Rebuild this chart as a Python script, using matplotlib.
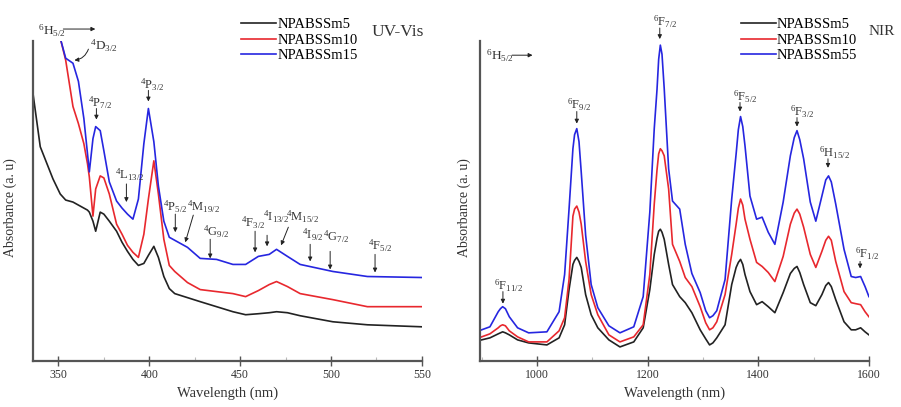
import numpy as np
import matplotlib
matplotlib.use('Agg')
import matplotlib.pyplot as plt
from matplotlib.ticker import MultipleLocator

plt.rcParams['font.family'] = ['Liberation Serif', 'DejaVu Serif']
plt.rcParams['mathtext.fontset'] = 'custom'
plt.rcParams['mathtext.rm'] = 'Liberation Serif'
plt.rcParams['mathtext.it'] = 'Liberation Serif:italic'
plt.rcParams['lines.solid_joinstyle'] = 'round'

# UV-Vis spectra (336-550 nm)
wl_uv = [336, 340, 347, 351, 354, 358, 361, 364, 366, 367, 369, 370.5, 373, 375,
         378, 382, 385, 388, 391, 394, 397, 399.5, 402.5, 405, 408, 411, 414,
         421, 428, 437, 446, 453, 460, 466, 470, 476, 483, 501, 520, 550]
uv_sm5 = [2.66, 2.13, 1.81, 1.66, 1.60, 1.58, 1.55, 1.52, 1.50, 1.48, 1.39, 1.29,
          1.48, 1.46, 1.39, 1.29, 1.18, 1.09, 1.01, 0.95, 0.97, 1.05, 1.14, 1.03,
          0.84, 0.72, 0.67, 0.63, 0.59, 0.54, 0.49, 0.46, 0.47, 0.48, 0.49, 0.48,
          0.45, 0.39, 0.36, 0.34]
uv_sm10 = [np.nan, np.nan, np.nan, 3.21, 2.99, 2.53, 2.36, 2.16, 1.96, 1.83, 1.44,
           1.71, 1.84, 1.82, 1.66, 1.36, 1.26, 1.15, 1.08, 1.03, 1.26, 1.61, 1.99,
           1.66, 1.21, 0.95, 0.89, 0.78, 0.71, 0.69, 0.67, 0.64, 0.70, 0.76, 0.79,
           0.74, 0.67, 0.61, 0.54, 0.54]
uv_sm15 = [np.nan, np.nan, np.nan, 3.21, 3.01, 2.96, 2.78, 2.41, 2.06, 1.88, 2.21,
           2.33, 2.29, 2.09, 1.78, 1.59, 1.52, 1.46, 1.41, 1.61, 2.16, 2.51, 2.18,
           1.74, 1.39, 1.23, 1.20, 1.13, 1.02, 1.01, 0.96, 0.96, 1.04, 1.06, 1.11,
           1.04, 0.96, 0.89, 0.84, 0.83]

# NIR spectra (900-1600 nm)
wl_nir = [900, 915, 930, 934, 938, 943, 950, 965, 985, 1018,
          1040, 1050, 1058, 1065, 1068, 1072, 1076, 1080, 1088, 1098,
          1110, 1130, 1150, 1175, 1192, 1204, 1212, 1217, 1220, 1223,
          1226, 1230, 1238, 1245, 1258, 1268, 1280, 1295, 1305, 1312,
          1318, 1325, 1340, 1352, 1360, 1364, 1368, 1372, 1376, 1385,
          1397, 1407, 1418, 1430, 1445, 1458, 1465, 1470, 1475, 1482,
          1494, 1504, 1515, 1522, 1527, 1532, 1540, 1555, 1568, 1576,
          1585, 1593, 1600]
nir_sm5 = [0.21, 0.23, 0.27, 0.28, 0.29, 0.28, 0.26, 0.21, 0.18, 0.16,
           0.23, 0.36, 0.71, 0.96, 1.00, 1.03, 0.99, 0.93, 0.66, 0.46,
           0.33, 0.21, 0.14, 0.19, 0.33, 0.71, 1.06, 1.22, 1.29, 1.31,
           1.28, 1.21, 0.96, 0.76, 0.64, 0.58, 0.48, 0.31, 0.22, 0.16,
           0.18, 0.23, 0.36, 0.76, 0.93, 0.98, 1.01, 0.96, 0.86, 0.69,
           0.56, 0.59, 0.54, 0.48, 0.68, 0.87, 0.92, 0.94, 0.88, 0.76,
           0.58, 0.55, 0.66, 0.75, 0.78, 0.74, 0.61, 0.39, 0.31, 0.31,
           0.33, 0.29, 0.26]
nir_sm10 = [0.24, 0.27, 0.33, 0.35, 0.36, 0.35, 0.30, 0.24, 0.19, 0.19,
            0.30, 0.43, 0.81, 1.44, 1.51, 1.54, 1.48, 1.36, 0.99, 0.66,
            0.46, 0.26, 0.19, 0.24, 0.36, 0.86, 1.56, 1.90, 2.06, 2.11,
            2.09, 2.04, 1.71, 1.16, 0.99, 0.83, 0.74, 0.54, 0.38, 0.31,
            0.33, 0.39, 0.66, 1.06, 1.36, 1.52, 1.61, 1.55, 1.41, 1.21,
            0.98, 0.94, 0.88, 0.79, 1.04, 1.36, 1.47, 1.51, 1.46, 1.33,
            1.06, 0.93, 1.09, 1.20, 1.24, 1.20, 0.99, 0.69, 0.58, 0.57,
            0.56, 0.49, 0.44]
nir_sm55 = [0.31, 0.34, 0.49, 0.52, 0.54, 0.52, 0.44, 0.33, 0.28, 0.29,
            0.49, 0.86, 1.51, 2.11, 2.25, 2.31, 2.18, 1.88, 1.25, 0.76,
            0.53, 0.35, 0.28, 0.34, 0.64, 1.48, 2.31, 2.70, 3.00, 3.14,
            3.05, 2.71, 1.91, 1.59, 1.51, 1.16, 0.87, 0.68, 0.50, 0.43,
            0.45, 0.50, 0.81, 1.61, 2.06, 2.30, 2.43, 2.33, 2.14, 1.64,
            1.41, 1.43, 1.28, 1.16, 1.58, 2.04, 2.22, 2.29, 2.20, 2.01,
            1.58, 1.39, 1.64, 1.80, 1.84, 1.78, 1.56, 1.11, 0.84, 0.83,
            0.84, 0.74, 0.64]

# level labels: (text, label x, label y, arrow start, arrow tip)
uv_levels = [
    (r'$^{4}\mathrm{P}_{7/2}$', 366.5, 2.53, (370.9, 2.51), (370.9, 2.40)),
    (r'$^{4}\mathrm{P}_{3/2}$', 395.0, 2.71, (399.5, 2.69), (399.5, 2.58)),
    (r'$^{4}\mathrm{L}_{13/2}$', 381.3, 1.81, (387.4, 1.76), (387.4, 1.58)),
    (r'$^{4}\mathrm{P}_{5/2}$', 407.7, 1.49, (414.3, 1.46), (414.3, 1.28)),
    (r'$^{4}\mathrm{M}_{19/2}$', 420.8, 1.49, (424.2, 1.45), (419.8, 1.18)),
    (r'$^{4}\mathrm{G}_{9/2}$', 429.7, 1.24, (433.5, 1.21), (433.5, 1.02)),
    (r'$^{4}\mathrm{F}_{3/2}$', 450.6, 1.33, (458.2, 1.29), (458.2, 1.08)),
    (r'$^{4}\mathrm{I}_{13/2}$', 462.4, 1.39, (464.8, 1.25), (464.8, 1.14)),
    (r'$^{4}\mathrm{M}_{15/2}$', 475.4, 1.39, (476.5, 1.33), (472.5, 1.15)),
    (r'$^{4}\mathrm{I}_{9/2}$', 484.0, 1.21, (488.5, 1.16), (488.5, 0.99)),
    (r'$^{4}\mathrm{G}_{7/2}$', 495.8, 1.19, (499.5, 1.09), (499.5, 0.91)),
    (r'$^{4}\mathrm{F}_{5/2}$', 520.3, 1.11, (524.2, 1.06), (524.2, 0.88)),
]
nir_levels = [
    (r'$^{6}\mathrm{F}_{11/2}$', 922, 0.71, (938.5, 0.69), (938.5, 0.57)),
    (r'$^{6}\mathrm{F}_{9/2}$', 1054, 2.51, (1072, 2.48), (1072, 2.36)),
    (r'$^{6}\mathrm{F}_{7/2}$', 1210, 3.33, (1222, 3.31), (1222, 3.20)),
    (r'$^{6}\mathrm{F}_{5/2}$', 1354, 2.59, (1367, 2.57), (1367, 2.48)),
    (r'$^{6}\mathrm{F}_{3/2}$', 1457, 2.44, (1470, 2.42), (1470, 2.33)),
    (r'$^{6}\mathrm{H}_{15/2}$', 1510, 2.03, (1526, 2.01), (1526, 1.92)),
    (r'$^{6}\mathrm{F}_{1/2}$', 1575, 1.03, (1584, 0.99), (1584, 0.92)),
]

colors = ['#222222', '#e8282e', '#2626e0']
axis_col = '#555555'

fig = plt.figure(figsize=(9.01, 4.07), dpi=100)
ax1 = fig.add_axes([0.0366, 0.113, 0.4317, 0.786])
ax2 = fig.add_axes([0.5327, 0.113, 0.4317, 0.786])


def style_axis(ax):
    for s in ['top', 'right']:
        ax.spines[s].set_visible(False)
    for s in ['left', 'bottom']:
        ax.spines[s].set_color(axis_col)
        ax.spines[s].set_linewidth(1.6)
    ax.set_yticks([])
    ax.tick_params(axis='x', direction='inout', length=7, width=1, colors=axis_col,
                   labelcolor='#333333', labelsize=8.5, pad=2)
    ax.tick_params(axis='x', which='minor', direction='in', length=3, width=0.8,
                   colors='#bbbbbb')
    ax.set_ylim(0, 3.18)
    ax.set_xlabel('Wavelength (nm)', fontsize=10.5, color='#333333', labelpad=4)
    ax.set_ylabel('Absorbance (a. u)', fontsize=10, color='#333333')


def label_levels(ax, levels):
    for txt, tx, ty, start, tip in levels:
        ax.text(tx, ty, txt, fontsize=9, color='#333333', va='baseline',
                clip_on=False)
        ax.annotate('', xy=tip, xytext=start, annotation_clip=False,
                    arrowprops=dict(arrowstyle='-|>', color='#222222', lw=0.7,
                                    mutation_scale=6, shrinkA=0, shrinkB=0))


# UV-Vis panel
style_axis(ax1)
ax1.plot(wl_uv, uv_sm5, color=colors[0], lw=1.2, label='NPABSSm5')
ax1.plot(wl_uv, uv_sm10, color=colors[1], lw=1.2, label='NPABSSm10')
ax1.plot(wl_uv, uv_sm15, color=colors[2], lw=1.2, label='NPABSSm15')
ax1.set_xlim(336, 550)
ax1.xaxis.set_major_locator(MultipleLocator(50))
ax1.xaxis.set_minor_locator(MultipleLocator(25))
ax1.yaxis.set_label_coords(-0.04, 0.48)
label_levels(ax1, uv_levels)
ax1.text(339, 3.24, r'$^{6}\mathrm{H}_{5/2}$', fontsize=9.5, color='#333333',
         va='baseline', clip_on=False)
ax1.annotate('', xy=(370.3, 3.30), xytext=(352.7, 3.30), annotation_clip=False,
             arrowprops=dict(arrowstyle='-|>', color='#222222', lw=0.7,
                             mutation_scale=6, shrinkA=0, shrinkB=0))
ax1.text(367.6, 3.09, r'$^{4}\mathrm{D}_{3/2}$', fontsize=9.5, color='#333333',
         va='baseline', clip_on=False)
ax1.annotate('', xy=(358.8, 2.99), xytext=(366.5, 3.10), annotation_clip=False,
             arrowprops=dict(arrowstyle='-|>', color='#222222', lw=0.7,
                             mutation_scale=6, shrinkA=0, shrinkB=0,
                             connectionstyle='arc3,rad=-0.3'))
ax1.legend(loc='upper left', bbox_to_anchor=(0.52, 1.09), frameon=False,
           fontsize=10.5, handlelength=2.4, handletextpad=0.1,
           labelspacing=0.15, borderaxespad=0)
ax1.text(0.87, 1.03, 'UV-Vis', transform=ax1.transAxes, fontsize=12.5,
         color='#333333', va='center', clip_on=False)

# NIR panel
style_axis(ax2)
ax2.plot(wl_nir, nir_sm5, color=colors[0], lw=1.2, label='NPABSSm5')
ax2.plot(wl_nir, nir_sm10, color=colors[1], lw=1.2, label='NPABSSm10')
ax2.plot(wl_nir, nir_sm55, color=colors[2], lw=1.2, label='NPABSSm55')
ax2.set_xlim(897, 1600)
ax2.xaxis.set_major_locator(MultipleLocator(200))
ax2.xaxis.set_minor_locator(MultipleLocator(100))
ax2.yaxis.set_label_coords(-0.023, 0.48)
label_levels(ax2, nir_levels)
ax2.text(908, 2.99, r'$^{6}\mathrm{H}_{5/2}$', fontsize=9.5, color='#333333',
         va='baseline', clip_on=False)
ax2.annotate('', xy=(992, 3.04), xytext=(955, 3.04), annotation_clip=False,
             arrowprops=dict(arrowstyle='-|>', color='#222222', lw=0.7,
                             mutation_scale=6, shrinkA=0, shrinkB=0))
ax2.legend(loc='upper left', bbox_to_anchor=(0.655, 1.09), frameon=False,
           fontsize=10.5, handlelength=2.4, handletextpad=0.1,
           labelspacing=0.15, borderaxespad=0)
ax2.text(1.0, 1.03, 'NIR', transform=ax2.transAxes, fontsize=11,
         color='#333333', va='center', clip_on=False)

fig.savefig('out.png', dpi=100)
